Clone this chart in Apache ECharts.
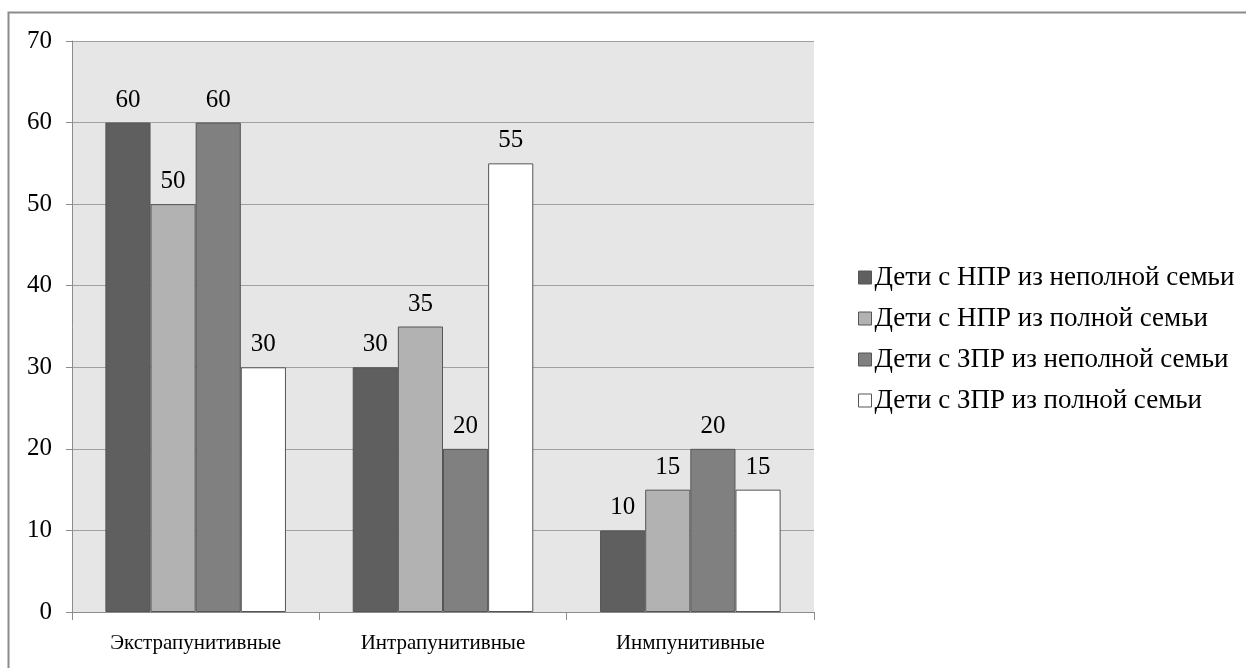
<!DOCTYPE html>
<html><head><meta charset="utf-8">
<script src="https://cdn.jsdelivr.net/npm/echarts@6/dist/echarts.min.js"></script>
<style>html,body{margin:0;padding:0;background:#fff}#c{width:1246px;height:668px}</style>
</head><body><div id="c"></div>
<script>
const categories = ['Экстрапунитивные', 'Интрапунитивные', 'Инмпунитивные'];
const seriesNames = ['Дети с НПР из неполной семьи', 'Дети с НПР из полной семьи', 'Дети с ЗПР из неполной семьи', 'Дети с ЗПР из полной семьи'];
const s1 = [60, 30, 10];
const s2 = [50, 35, 15];
const s3 = [60, 20, 20];
const s4 = [30, 55, 15];
const colors = ['#5f5f5f', '#b2b2b2', '#808080', '#ffffff'];
const font = '"Liberation Serif", "Times New Roman", serif';
const chart = echarts.init(document.getElementById('c'));
const data = [s1, s2, s3, s4];
chart.setOption({
  animation: false,
  textStyle: {fontFamily: font},
  graphic: [{type: 'rect', shape: {x: 8.5, y: 12.5, width: 1250, height: 700}, style: {fill: 'none', stroke: '#8c8c8c', lineWidth: 2}, z: -10}],
  grid: {left: 72, right: 432, top: 41, bottom: 56, show: true, backgroundColor: '#e6e6e6', borderWidth: 0},
  legend: {
    orient: 'vertical', left: 853, top: 259, itemWidth: 13, itemHeight: 13, itemGap: 14,
    icon: 'rect',
    textStyle: {fontFamily: font, fontSize: 27, lineHeight: 27, color: '#000', padding: [0, 0, 0, -2]},
    data: seriesNames.map((n, i) => ({name: n, itemStyle: {borderColor: '#555', borderWidth: 1}}))
  },
  xAxis: {
    type: 'category', data: categories,
    axisLine: {lineStyle: {color: '#8c8c8c', width: 1}},
    axisTick: {show: true, length: 8, lineStyle: {color: '#8c8c8c'}},
    axisLabel: {fontFamily: font, fontSize: 21, color: '#000', margin: 21},
    splitLine: {show: false}
  },
  yAxis: {
    type: 'value', min: 0, max: 70, interval: 10,
    axisLine: {show: true, lineStyle: {color: '#8c8c8c'}},
    axisTick: {show: true, length: 6, lineStyle: {color: '#8c8c8c'}},
    axisLabel: {fontFamily: font, fontSize: 25, color: '#000', margin: 20},
    splitLine: {lineStyle: {color: '#a0a0a0', width: 1}}
  },
  series: data.map((d, i) => ({
    type: 'bar', name: seriesNames[i], data: d,
    barGap: '0%', barCategoryGap: '27%',
    itemStyle: {color: colors[i], borderColor: '#555', borderWidth: 1},
    label: {show: true, position: 'top', distance: 10, fontFamily: font, fontSize: 25, color: '#000'}
  }))
});
</script></body></html>
